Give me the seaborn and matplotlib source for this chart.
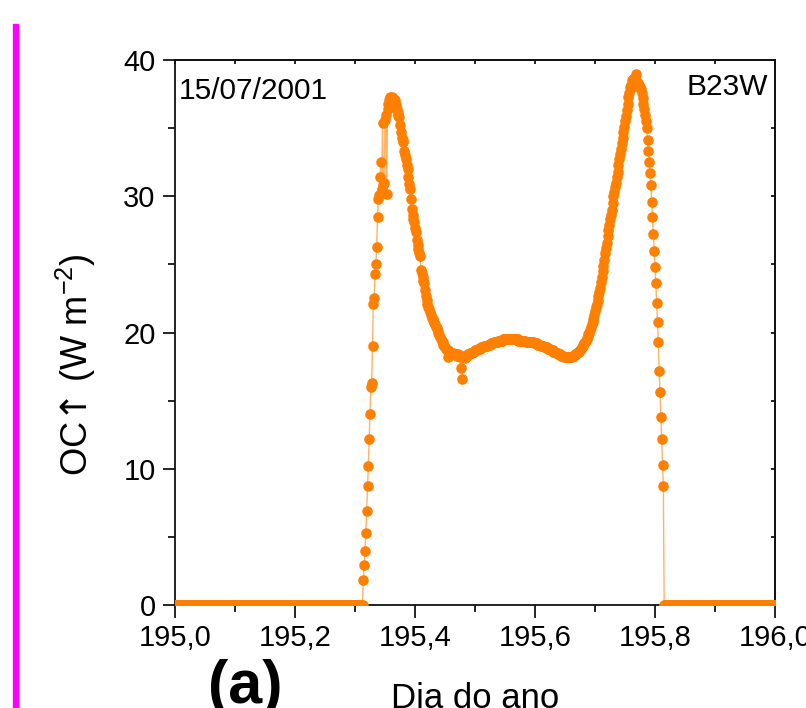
import numpy as np
import pandas as pd
import seaborn as sns
import matplotlib.pyplot as plt
from matplotlib.ticker import MultipleLocator, FuncFormatter, NullFormatter
from matplotlib.patches import Rectangle

# OC up (W m-2) on a 2-minute grid, day 195 (15/07/2001)
night_am = [0.0] * 226
day = [
    1.8, 2.9, 4.0, 5.3, 6.9, 8.7, 10.2, 12.2, 14.0, 16.0,
    16.3, 19.0, 22.1, 22.5, 24.3, 25.0, 26.3, 28.5, 29.8, 30.1,
    31.4, 32.5, 30.5, 35.4, 30.8, 31.0, 35.6, 36.0, 30.2, 36.4,
    36.8, 37.1, 37.3, 37.2, 37.3, 37.0, 37.2, 36.9, 37.1, 36.7,
    36.4, 36.1, 35.9, 35.8, 35.2, 34.7, 34.3, 34.1, 34.0, 33.3,
    33.0, 32.7, 32.3, 32.0, 31.4, 30.9, 30.5, 29.8, 29.1, 28.6,
    28.3, 28.1, 27.7, 27.4, 26.8, 26.4, 26.1, 25.8, 25.6, 24.6,
    24.4, 24.1, 23.8, 23.6, 23.1, 22.7, 22.4, 22.1, 21.9, 21.7,
    21.5, 21.3, 21.1, 21.0, 20.9, 20.7, 20.6, 20.4, 20.3, 20.1,
    20.0, 19.8, 19.7, 19.5, 19.4, 19.3, 19.1, 19.0, 18.9, 18.8,
    18.7, 18.7, 18.2, 18.6, 18.5, 18.5, 18.5, 18.5, 18.4, 18.4,
    18.4, 18.4, 18.3, 18.4, 18.3, 18.3, 18.2, 17.4, 16.6, 18.2,
    18.3, 18.2, 18.1, 18.3, 18.3, 18.4, 18.4, 18.4, 18.5, 18.5,
    18.5, 18.6, 18.6, 18.6, 18.7, 18.7, 18.7, 18.8, 18.8, 18.8,
    18.8, 18.9, 18.9, 18.9, 18.9, 19.0, 19.0, 19.0, 19.0, 19.1,
    19.1, 19.1, 19.1, 19.2, 19.2, 19.2, 19.2, 19.3, 19.3, 19.3,
    19.3, 19.3, 19.4, 19.4, 19.4, 19.4, 19.4, 19.4, 19.5, 19.5,
    19.5, 19.5, 19.5, 19.5, 19.5, 19.5, 19.5, 19.5, 19.5, 19.5,
    19.5, 19.5, 19.5, 19.5, 19.5, 19.5, 19.4, 19.4, 19.4, 19.4,
    19.4, 19.4, 19.4, 19.4, 19.4, 19.3, 19.3, 19.3, 19.3, 19.3,
    19.3, 19.3, 19.3, 19.3, 19.3, 19.2, 19.2, 19.2, 19.2, 19.1,
    19.1, 19.1, 19.1, 19.0, 19.0, 19.0, 19.0, 18.9, 18.9, 18.9,
    18.9, 18.8, 18.8, 18.8, 18.8, 18.7, 18.7, 18.7, 18.6, 18.6,
    18.6, 18.5, 18.5, 18.5, 18.4, 18.4, 18.4, 18.3, 18.3, 18.3,
    18.3, 18.2, 18.2, 18.2, 18.2, 18.2, 18.2, 18.2, 18.2, 18.2,
    18.2, 18.3, 18.3, 18.3, 18.4, 18.4, 18.5, 18.5, 18.6, 18.6,
    18.7, 18.8, 18.9, 19.0, 19.1, 19.2, 19.3, 19.4, 19.6, 19.7,
    19.9, 20.0, 20.2, 20.4, 20.6, 20.8, 21.0, 21.3, 21.6, 21.9,
    22.1, 22.4, 22.7, 23.0, 23.3, 23.7, 24.1, 24.5, 24.9, 25.3,
    25.8, 26.2, 26.6, 27.1, 27.5, 27.9, 28.3, 28.6, 29.0, 29.5,
    30.0, 30.3, 30.7, 31.0, 31.4, 31.8, 32.3, 32.7, 33.1, 33.5,
    33.9, 34.3, 34.7, 35.1, 35.5, 35.9, 36.3, 36.8, 37.3, 37.6,
    38.0, 38.2, 38.5, 38.0, 38.6, 38.3, 38.7, 39.0, 38.4, 38.1,
    38.3, 38.2, 38.0, 37.9, 37.6, 37.2, 36.8, 36.4, 36.0, 35.5,
    35.0, 34.1, 33.3, 32.5, 31.7, 30.8, 29.6, 28.5, 27.2, 26.0,
    24.8, 23.6, 22.2, 20.8, 19.3, 17.2, 15.6, 13.8, 12.2, 10.3,
    8.7,
]
night_pm = [0.0] * 134

oc = night_am + day + night_pm
dia = 195 + np.arange(len(oc)) * 2 / 1440.0
df = pd.DataFrame({'dia': dia, 'oc': oc})

sns.set_style('ticks')
plt.rcParams['font.family'] = ['Liberation Sans', 'DejaVu Sans']
plt.rcParams['mathtext.fontset'] = 'custom'
plt.rcParams['mathtext.rm'] = 'Liberation Sans'
plt.rcParams['mathtext.it'] = 'Liberation Sans:italic'
plt.rcParams['mathtext.sf'] = 'DejaVu Sans'
plt.rcParams['text.color'] = 'black'
plt.rcParams['axes.labelcolor'] = 'black'
plt.rcParams['xtick.color'] = 'black'
plt.rcParams['ytick.color'] = 'black'

fig = plt.figure(figsize=(8.06, 7.08), dpi=100)
ax = fig.add_axes([175 / 806, 103 / 708, 600 / 806, 545 / 708])

sns.lineplot(data=df, x='dia', y='oc', ax=ax, color='#FFB366', linewidth=1.0,
             sort=False, estimator=None)
sns.scatterplot(data=df, x='dia', y='oc', ax=ax, color='#FF8000', s=58,
                linewidth=0, zorder=3)

ax.set_xlim(195, 196)
ax.set_ylim(0, 40)
ax.xaxis.set_major_locator(MultipleLocator(0.2))
ax.xaxis.set_minor_locator(MultipleLocator(0.1))
ax.yaxis.set_major_locator(MultipleLocator(10))
ax.yaxis.set_minor_locator(MultipleLocator(5))
ax.xaxis.set_major_formatter(FuncFormatter(lambda v, p: f"{v:.1f}".replace('.', ',')))
ax.yaxis.set_major_formatter(FuncFormatter(lambda v, p: f"{v:.0f}"))

ax.tick_params(which='major', direction='out', length=9, width=1.2,
               labelsize=21, pad=5, color='black', labelcolor='black')
ax.tick_params(which='minor', direction='out', length=5, width=1.2, color='black')
for sp in ax.spines.values():
    sp.set_linewidth(1.3)
    sp.set_color('#111111')

# inward ticks on top and right
top = ax.secondary_xaxis('top')
top.xaxis.set_major_locator(MultipleLocator(0.1))
top.xaxis.set_major_formatter(NullFormatter())
top.tick_params(direction='in', length=3, width=1.2, color='black')
top.spines['top'].set_linewidth(1.3)
top.spines['top'].set_color('#111111')
right = ax.secondary_yaxis('right')
right.yaxis.set_major_locator(MultipleLocator(5))
right.yaxis.set_major_formatter(NullFormatter())
right.tick_params(direction='in', length=3, width=1.2, color='black')
right.spines['right'].set_linewidth(1.3)
right.spines['right'].set_color('#111111')

ax.set_xlabel('')
ax.set_ylabel('')

ax.text(0.007, 0.928, '15/07/2001', transform=ax.transAxes, fontsize=21.5,
        ha='left', va='baseline')
ax.text(0.988, 0.936, 'B23W', transform=ax.transAxes, fontsize=21.5,
        ha='right', va='baseline')

fig.text(88 / 806, (708 - 365) / 708,
         'OC$\\mathsf{\u2191}$ (W m$^{\\mathregular{-2}}$)',
         rotation=90, rotation_mode='anchor', ha='center', va='baseline', fontsize=26)
fig.text(475 / 806, 0.0, 'Dia do ano', ha='center', va='baseline', fontsize=25)
fig.text(245 / 806, 5 / 708, '(a)', ha='center', va='baseline', fontsize=44,
         fontweight='bold')

fig.patches.append(Rectangle((13 / 806, 0), 5 / 806, (708 - 24) / 708,
                             transform=fig.transFigure, color='#FF00FF'))

fig.savefig('out.png', dpi=100)
